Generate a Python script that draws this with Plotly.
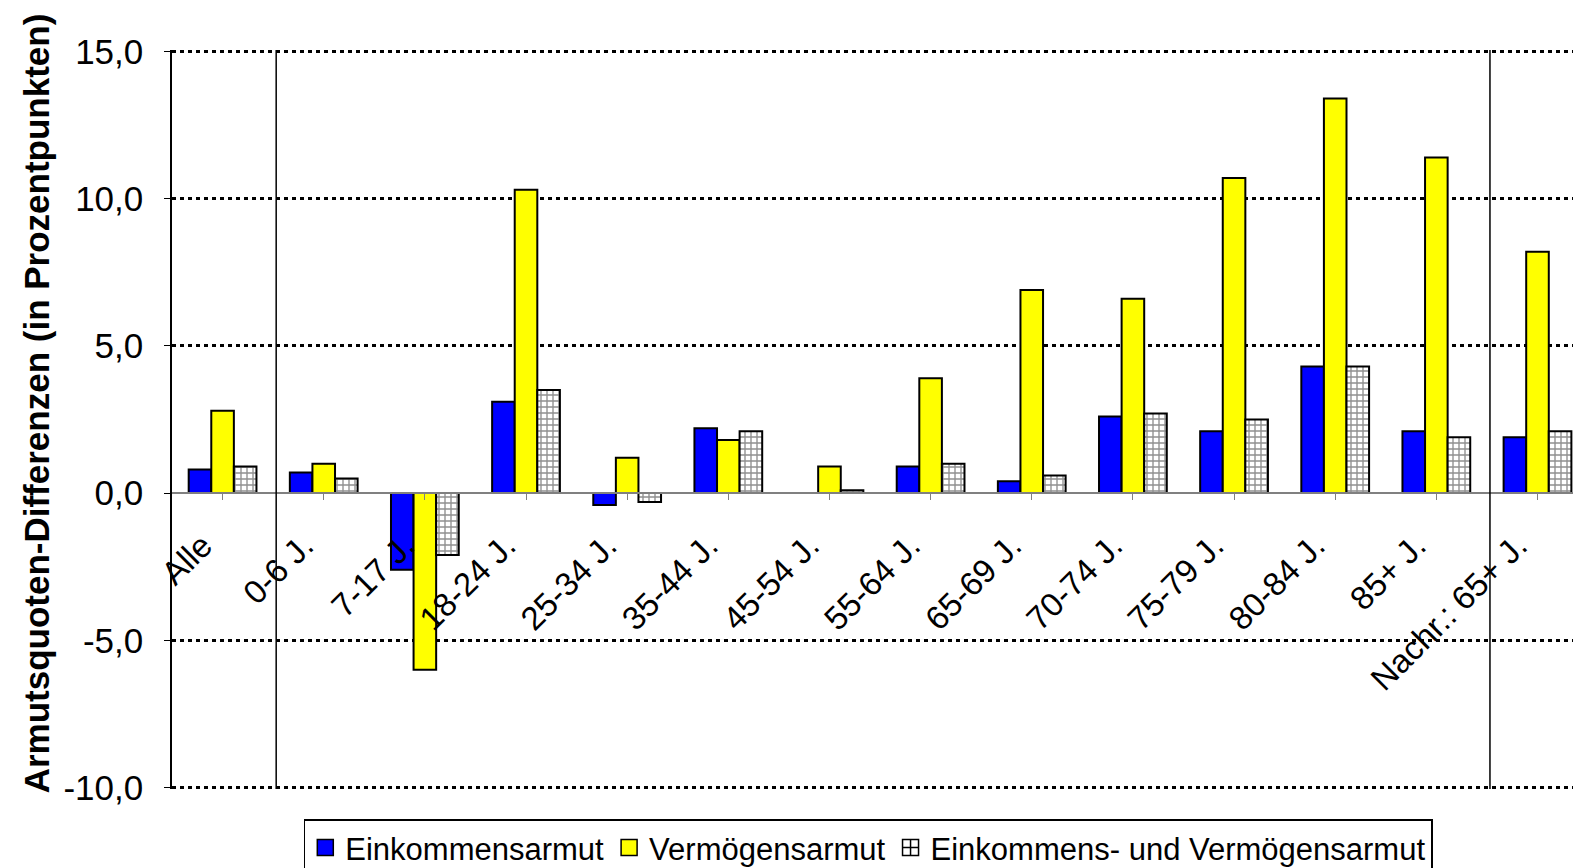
import plotly.graph_objects as go

categories = ["Alle", "0-6 J.", "7-17 J.", "18-24 J.", "25-34 J.", "35-44 J.", "45-54 J.",
              "55-64 J.", "65-69 J.", "70-74 J.", "75-79 J.", "80-84 J.", "85+ J.", "Nachr.: 65+ J."]
einkommen = [0.8, 0.7, -2.6, 3.1, -0.4, 2.2, 0.0, 0.9, 0.4, 2.6, 2.1, 4.3, 2.1, 1.9]
vermoegen = [2.8, 1.0, -6.0, 10.3, 1.2, 1.8, 0.9, 3.9, 6.9, 6.6, 10.7, 13.4, 11.4, 8.2]
beides = [0.9, 0.5, -2.1, 3.5, -0.3, 2.1, 0.1, 1.0, 0.6, 2.7, 2.5, 4.3, 1.9, 2.1]
y_ticks = [-10, -5, 0, 5, 10, 15]
y_ticktext = ["-10,0", "-5,0", "0,0", "5,0", "10,0", "15,0"]
series_names = ["Einkommensarmut", "Vermögensarmut", "Einkommens- und Vermögensarmut"]
y_title = "Armutsquoten-Differenzen (in Prozentpunkten)"

FONT = "Liberation Sans, Arial, sans-serif"
x = list(range(len(categories)))
colors = ["#0000FF", "#FFFF00", "white"]

fig = go.Figure()
fig.add_trace(go.Bar(x=x, y=einkommen, name=series_names[0], showlegend=False,
                     marker=dict(color=colors[0], line=dict(color="black", width=2))))
fig.add_trace(go.Bar(x=x, y=vermoegen, name=series_names[1], showlegend=False,
                     marker=dict(color=colors[1], line=dict(color="black", width=2))))
fig.add_trace(go.Bar(x=x, y=beides, name=series_names[2], showlegend=False,
                     marker=dict(color=colors[2], line=dict(color="black", width=2),
                                 pattern=dict(shape="+", fgcolor="#202020", bgcolor="white",
                                              size=6, solidity=0.4))))

# legend entries (larger square symbols as in the original)
symbols = ["square", "square", "square-cross"]
for name, col, sym in zip(series_names, colors, symbols):
    fig.add_trace(go.Scatter(x=[None], y=[None], mode="markers", name=name,
                             marker=dict(symbol=sym, size=16, color=col,
                                         line=dict(color="black", width=1.5))))

# separators between "Alle" / age groups / "Nachr."
for xs in [0.53, 12.53]:
    fig.add_shape(type="line", xref="x", yref="paper", x0=xs, x1=xs, y0=0, y1=1,
                  line=dict(color="black", width=1.5), layer="above")

fig.add_annotation(text="<b>" + y_title + "</b>", xref="paper", yref="paper",
                   x=-0.097, y=0.522, xanchor="center", yanchor="middle",
                   textangle=-90, showarrow=False, font=dict(size=35))

fig.update_layout(
    width=1573, height=868,
    margin=dict(l=172, r=0, t=50, b=79, autoexpand=False),
    paper_bgcolor="white", plot_bgcolor="white",
    barmode="group", bargap=0.33, bargroupgap=0,
    font=dict(family=FONT, color="black", size=31),
    showlegend=True,
    legend=dict(orientation="h", x=0.497, xanchor="center", y=-0.041, yanchor="top",
                bordercolor="black", borderwidth=1.5, font=dict(size=31),
                traceorder="normal", itemsizing="trace"),
    xaxis=dict(
        range=[-0.5, 13.351], tickmode="array", tickvals=x, ticktext=categories,
        anchor="free", position=0.4, showline=True, linecolor="#808080", linewidth=1.5,
        ticks="outside", ticklen=6, tickcolor="#808080", tickson="boundaries",
        tickangle=-45, tickfont=dict(size=33), showgrid=False, zeroline=False,
        ticklabelstandoff=13, ticklabelshift=-20,
    ),
    yaxis=dict(
        range=[-10.05, 15.05], tickvals=y_ticks, ticktext=y_ticktext,
        showline=True, linecolor="black", linewidth=1.5, ticks="outside", ticklen=6,
        tickcolor="black", tickfont=dict(size=35), showgrid=True, gridcolor="black",
        gridwidth=2.5, griddash="4px,4px", zeroline=True, zerolinecolor="#808080",
        zerolinewidth=1.5, ticklabelstandoff=14,
    ),
)

fig.write_html("out.html", config={"displayModeBar": False},
               post_script="document.body.style.margin='0';")
